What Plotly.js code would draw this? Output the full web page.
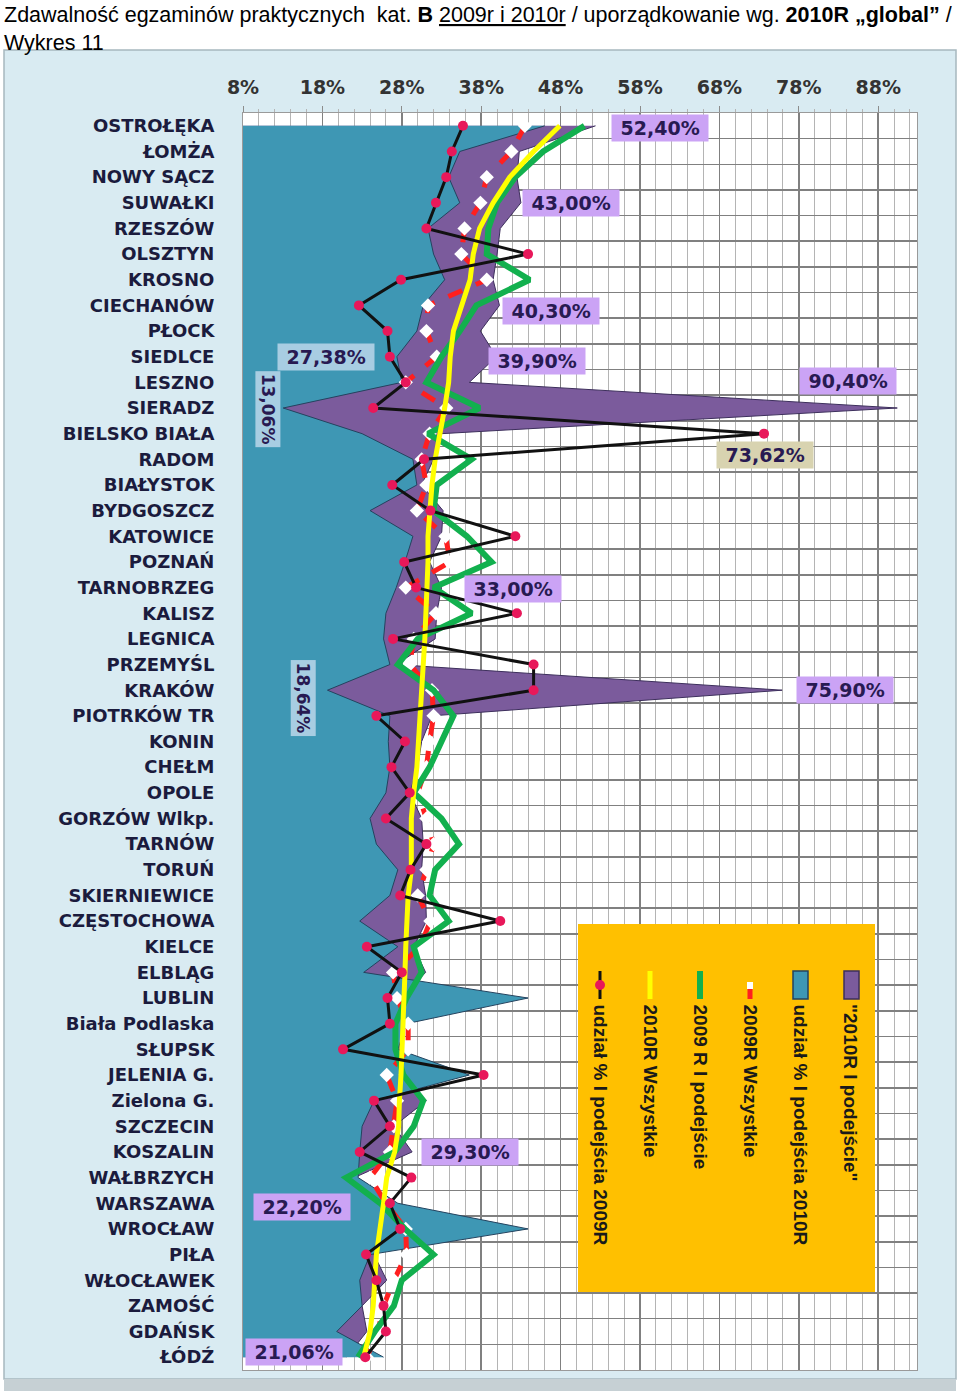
<!DOCTYPE html>
<html>
<head>
<meta charset="utf-8">
<script src="https://cdn.plot.ly/plotly-3.0.1.min.js"></script>
<style>
  html, body { margin: 0; padding: 0; background: #fff; }
  #wykres { width: 960px; height: 1393px; }
</style>
</head>
<body>
<div id="wykres"></div>
<script>
// miasta w kolejności wg 2010R "global"
const miasta = [
    "OSTROŁĘKA", "ŁOMŻA", "NOWY SĄCZ", "SUWAŁKI", "RZESZÓW", "OLSZTYN", "KROSNO",
    "CIECHANÓW", "PŁOCK", "SIEDLCE", "LESZNO", "SIERADZ", "BIELSKO BIAŁA", "RADOM",
    "BIAŁYSTOK", "BYDGOSZCZ", "KATOWICE", "POZNAŃ", "TARNOBRZEG", "KALISZ", "LEGNICA",
    "PRZEMYŚL", "KRAKÓW", "PIOTRKÓW TR", "KONIN", "CHEŁM", "OPOLE", "GORZÓW Wlkp.",
    "TARNÓW", "TORUŃ", "SKIERNIEWICE", "CZĘSTOCHOWA", "KIELCE", "ELBLĄG", "LUBLIN",
    "Biała Podlaska", "SŁUPSK", "JELENIA G.", "Zielona G.", "SZCZECIN", "KOSZALIN",
    "WAŁBRZYCH", "WARSZAWA", "WROCŁAW", "PIŁA", "WŁOCŁAWEK", "ZAMOŚĆ", "GDAŃSK", "ŁÓDŹ"
];

// "2010R I podejście" (fioletowy obszar)
const podejscie2010 = [
    52.4, 42.8, 42.5, 43.0, 40.4, 40.0, 39.5, 40.3, 37.9, 39.9,
    36.5, 90.4, 33.0, 32.0, 30.5, 33.2, 33.0, 31.5, 33.0, 32.4,
    32.2, 27.3, 75.9, 31.8, 30.5, 30.0, 29.0, 30.5, 30.7, 30.5,
    31.0, 31.1, 29.5, 31.0, 28.0, 28.0, 28.0, 27.5, 31.1, 27.0,
    29.3, 22.0, 22.2, 25.0, 24.5, 26.1, 23.0, 23.6, 21.06
];

// udział % I podejścia 2010R (turkusowy obszar)
const udzial2010 = [
    46.0, 35.3, 33.9, 35.3, 31.3, 32.0, 33.4, 30.7, 29.9, 27.38,
    28.0, 13.06, 23.0, 29.4, 29.9, 24.0, 29.4, 28.4, 27.3, 26.0,
    25.7, 26.5, 18.64, 26.5, 26.3, 26.5, 26.0, 24.0, 24.8, 27.5,
    26.5, 22.7, 27.5, 23.2, 43.9, 28.6, 27.5, 36.5, 24.5, 23.0,
    22.7, 22.5, 27.5, 43.9, 24.0, 22.7, 23.0, 19.8, 25.7
];

// 2009R Wszystkie (czerwona przerywana)
const wszystkie2009 = [
    43.5, 41.8, 38.7, 37.9, 35.9, 35.5, 38.7, 31.3, 31.1, 32.4,
    28.5, 33.6, 31.5, 30.5, 31.1, 29.9, 33.5, 34.1, 28.5, 32.3,
    29.5, 29.0, 31.8, 32.0, 31.5, 31.1, 30.0, 31.1, 32.0, 31.1,
    30.0, 31.6, 30.3, 26.9, 27.4, 28.8, 28.8, 26.1, 27.4, 27.0,
    26.5, 24.0, 26.0, 28.5, 28.6, 27.0, 25.7, 25.0, 23.6
];

// 2009 R I podejście (zielona)
const podejscie2009 = [
    51.0, 45.8, 42.3, 40.0, 38.9, 38.7, 44.1, 37.4, 35.3, 33.0,
    31.1, 37.8, 31.3, 36.8, 32.4, 32.0, 36.2, 39.3, 32.0, 36.8,
    30.0, 27.5, 32.0, 34.5, 33.0, 31.5, 29.5, 33.0, 35.2, 32.2,
    31.5, 33.9, 29.5, 30.5, 28.6, 27.2, 27.2, 28.2, 30.7, 29.5,
    27.1, 21.0, 25.3, 28.4, 32.0, 28.0, 27.0, 24.6, 22.5
];

// 2010R Wszystkie (żółta)
const wszystkie2010 = [
    47.9, 44.6, 41.6, 39.5, 37.8, 37.0, 36.6, 35.5, 34.5, 34.1,
    33.9, 33.4, 32.8, 32.2, 31.8, 31.5, 31.3, 31.3, 31.2, 31.1,
    30.9, 30.7, 30.5, 30.3, 30.1, 29.9, 29.5, 29.2, 29.2, 29.2,
    28.8, 28.6, 28.5, 28.4, 28.3, 28.2, 28.0, 27.9, 27.7, 27.6,
    27.1, 26.1, 25.7, 25.3, 24.8, 24.6, 24.4, 24.0, 23.2
];

// udział % I podejścia 2009R (czarna z kropkami)
const udzial2009 = [
    35.7, 34.3, 33.6, 32.3, 31.1, 43.9, 27.9, 22.6, 26.2, 26.5,
    28.5, 24.4, 73.62, 30.8, 26.8, 31.6, 42.3, 28.3, 29.8, 42.5,
    26.9, 44.6, 44.6, 24.8, 28.4, 26.7, 29.0, 26.0, 31.1, 29.1,
    27.8, 40.4, 23.6, 28.0, 26.2, 26.5, 20.6, 38.3, 24.5, 26.5,
    22.7, 29.2, 26.5, 27.8, 23.5, 24.8, 25.7, 26.0, 23.4
];

const osX = [8, 18, 28, 38, 48, 58, 68, 78, 88];

// obszar wykresu w pikselach
const M = { l: 243, r: 43, t: 113, b: 23 };
const W = 960, H = 1393;
const PW = W - M.l - M.r, PH = H - M.t - M.b;
const PX = v => (v - M.l) / PW;
const PY = v => (H - M.b - v) / PH;

const kolory = {
    fiolet: '#7b5b9c',
    turkus: '#3e97b4',
    czerwony: '#ff1f1f',
    zielony: '#12b04e',
    zolty: '#ffff00',
    czarny: '#111111',
    kropka: '#e8185a'
};

const serie = {
    p10: { nazwa: '"2010R I podejście"', dane: podejscie2010 },
    u10: { nazwa: 'udział % I podejścia 2010R', dane: udzial2010 },
    w09: { nazwa: '2009R Wszystkie', dane: wszystkie2009 },
    p09: { nazwa: '2009 R I podejście', dane: podejscie2009 },
    w10: { nazwa: '2010R Wszystkie', dane: wszystkie2010 },
    u09: { nazwa: 'udział % I podejścia 2009R', dane: udzial2009 }
};

const data = [
    {
        x: podejscie2010, y: miasta, name: serie.p10.nazwa, type: 'scatter', mode: 'lines',
        fill: 'tozerox', fillcolor: kolory.fiolet, line: { color: '#3d2f5c', width: 1 }
    },
    {
        x: udzial2010, y: miasta, name: serie.u10.nazwa, type: 'scatter', mode: 'lines',
        fill: 'tozerox', fillcolor: kolory.turkus, line: { color: '#24435f', width: 1 }
    },
    {
        x: wszystkie2009, y: miasta, name: serie.w09.nazwa, type: 'scatter', mode: 'lines+markers',
        line: { color: kolory.czerwony, width: 5, dash: 'dash' },
        marker: { symbol: 'diamond', size: 11, color: '#ffffff' }
    },
    {
        x: podejscie2009, y: miasta, name: serie.p09.nazwa, type: 'scatter', mode: 'lines',
        line: { color: kolory.zielony, width: 6 }
    },
    {
        x: wszystkie2010, y: miasta, name: serie.w10.nazwa, type: 'scatter', mode: 'lines',
        line: { color: kolory.zolty, width: 5 }
    },
    {
        x: udzial2009, y: miasta, name: serie.u09.nazwa, type: 'scatter', mode: 'lines+markers',
        line: { color: kolory.czarny, width: 3 },
        marker: { symbol: 'circle', size: 10, color: kolory.kropka }
    }
];

function procent(v) {
    return v.toFixed(2).replace('.', ',') + '%';
}

// etykiety wartości: seria, wiersz, położenie ramki
const etykiety = [
    { s: 'p10', i: 0, x: 60.5, y: 0.1 },
    { s: 'p10', i: 3, x: 49.3, y: 3.0 },
    { s: 'p10', i: 7, x: 46.8, y: 7.2 },
    { s: 'p10', i: 9, x: 45.0, y: 9.15 },
    { s: 'u10', i: 9, x: 18.4, y: 9.0 },
    { s: 'u10', i: 11, x: 11.1, y: 11.05, obrot: true },
    { s: 'p10', i: 11, x: 84.2, y: 9.95 },
    { s: 'u09', i: 12, x: 73.7, y: 12.85 },
    { s: 'p10', i: 18, x: 42.0, y: 18.05 },
    { s: 'u10', i: 22, x: 15.6, y: 22.3, obrot: true },
    { s: 'p10', i: 22, x: 83.8, y: 22.0 },
    { s: 'p10', i: 40, x: 36.6, y: 40.0 },
    { s: 'p10', i: 42, x: 15.4, y: 42.15 },
    { s: 'p10', i: 48, x: 14.4, y: 47.8 }
];
const tloEtykiet = { p10: '#cba3f5', u10: '#a8cde2', u09: '#d8d3b0' };

const adnotacje = etykiety.map(e => ({
    x: e.x, y: e.y, xref: 'x', yref: 'y',
    text: (e.obrot ? '' : '\u00a0') + procent(serie[e.s].dane[e.i]) + (e.obrot ? '' : '\u00a0'),
    showarrow: false,
    textangle: e.obrot ? 90 : 0,
    bgcolor: tloEtykiet[e.s],
    borderpad: 2,
    font: { family: 'DejaVu Sans', size: e.obrot ? 17 : 19, weight: 'bold', color: '#281a52' }
}));

// tytuł
adnotacje.push({
    xref: 'paper', yref: 'paper', x: PX(2), y: PY(1), xanchor: 'left', yanchor: 'top', align: 'left',
    showarrow: false,
    text: 'Zdawalność egzaminów praktycznych \u00a0kat. <b>B</b> <span style="text-decoration:underline">2009r i 2010r</span> / uporządkowanie wg. <b>2010R „global”</b> /<br>Wykres 11',
    font: { family: 'Liberation Sans, Arial, sans-serif', size: 21.5, color: '#000' }
});

// legenda (pionowa, w pomarańczowej ramce)
const legenda = [
    { s: 'u09', px: 600 },
    { s: 'w10', px: 650 },
    { s: 'p09', px: 700 },
    { s: 'w09', px: 750 },
    { s: 'u10', px: 800 },
    { s: 'p10', px: 851 }
];
legenda.forEach(l => {
    adnotacje.push({
        xref: 'paper', yref: 'paper', x: PX(l.px), y: PY(1002), xanchor: 'center', yanchor: 'top',
        showarrow: false, textangle: 90, text: serie[l.s].nazwa,
        font: { family: 'Liberation Sans, Arial, sans-serif', size: 19, weight: 'bold', color: '#1a1a1a' }
    });
});

const ksztalty = [
    // tło panelu
    { type: 'rect', xref: 'paper', yref: 'paper', layer: 'below',
      x0: PX(4), x1: PX(956), y0: PY(1379), y1: PY(50),
      fillcolor: '#d9ebf2', line: { color: '#a7b8bf', width: 1.5 } },
    { type: 'rect', xref: 'paper', yref: 'paper', layer: 'below',
      x0: PX(4), x1: PX(956), y0: PY(1391), y1: PY(1379),
      fillcolor: '#c6d0d4', line: { width: 0 } },
    // białe pole wykresu
    { type: 'rect', xref: 'paper', yref: 'paper', layer: 'below',
      x0: 0, x1: 1, y0: 0, y1: 1, fillcolor: '#ffffff', line: { width: 0 } },
    // ramka legendy
    { type: 'rect', xref: 'paper', yref: 'paper', layer: 'above',
      x0: PX(578), x1: PX(875), y0: PY(1292), y1: PY(924),
      fillcolor: '#ffc000', line: { width: 0 } },
    // symbole legendy
    { type: 'line', xref: 'paper', yref: 'paper', layer: 'above',
      x0: PX(600), x1: PX(600), y0: PY(999), y1: PY(971), line: { color: kolory.czarny, width: 3 } },
    { type: 'circle', xref: 'paper', yref: 'paper', layer: 'above',
      x0: PX(595), x1: PX(605), y0: PY(990), y1: PY(980), fillcolor: kolory.kropka, line: { width: 0 } },
    { type: 'line', xref: 'paper', yref: 'paper', layer: 'above',
      x0: PX(650), x1: PX(650), y0: PY(999), y1: PY(971), line: { color: kolory.zolty, width: 5 } },
    { type: 'line', xref: 'paper', yref: 'paper', layer: 'above',
      x0: PX(700), x1: PX(700), y0: PY(999), y1: PY(971), line: { color: kolory.zielony, width: 6 } },
    { type: 'line', xref: 'paper', yref: 'paper', layer: 'above',
      x0: PX(750), x1: PX(750), y0: PY(999), y1: PY(971), line: { color: kolory.czerwony, width: 5, dash: 'dash' } },
    { type: 'rect', xref: 'paper', yref: 'paper', layer: 'above',
      x0: PX(747), x1: PX(753), y0: PY(989), y1: PY(982), fillcolor: '#ffffff', line: { width: 0 } },
    { type: 'rect', xref: 'paper', yref: 'paper', layer: 'above',
      x0: PX(793), x1: PX(808), y0: PY(999), y1: PY(971), fillcolor: kolory.turkus, line: { color: '#24435f', width: 1.5 } },
    { type: 'rect', xref: 'paper', yref: 'paper', layer: 'above',
      x0: PX(844), x1: PX(859), y0: PY(999), y1: PY(971), fillcolor: kolory.fiolet, line: { color: '#3d2f5c', width: 1.5 } }
];

const layout = {
    width: W,
    height: H,
    margin: M,
    paper_bgcolor: '#ffffff',
    plot_bgcolor: 'rgba(0,0,0,0)',
    showlegend: false,
    xaxis: {
        side: 'top',
        range: [8, 8 + PW / 7.94],
        tickvals: osX,
        ticktext: osX.map(v => v + '%'),
        ticks: 'outside',
        ticklen: 6,
        tickcolor: '#8c8c8c',
        ticklabelstandoff: 4,
        tickfont: { family: 'DejaVu Sans', size: 19, weight: 'bold', color: '#333333' },
        showgrid: true,
        gridcolor: '#808080',
        gridwidth: 1.6,
        minor: { dtick: 2, tick0: 8, showgrid: true, gridcolor: '#b4b4b4', gridwidth: 1, ticks: 'outside', ticklen: 3, tickcolor: '#b4b4b4' },
        zeroline: false,
        showline: true,
        mirror: true,
        linecolor: '#9a9a9a',
        linewidth: 1,
        fixedrange: true
    },
    yaxis: {
        type: 'category',
        categoryorder: 'array',
        categoryarray: miasta,
        range: [miasta.length - 0.5, -0.5],
        tickson: 'boundaries',
        ticks: '',
        ticklabelstandoff: 24,
        tickfont: { family: 'DejaVu Sans', size: 18, weight: 'bold', color: '#1b1b3d' },
        showgrid: true,
        gridcolor: '#808080',
        gridwidth: 1.6,
        zeroline: false,
        showline: true,
        mirror: true,
        linecolor: '#9a9a9a',
        fixedrange: true
    },
    shapes: ksztalty,
    annotations: adnotacje
};

Plotly.newPlot('wykres', data, layout, { displayModeBar: false, staticPlot: true });
</script>
</body>
</html>
